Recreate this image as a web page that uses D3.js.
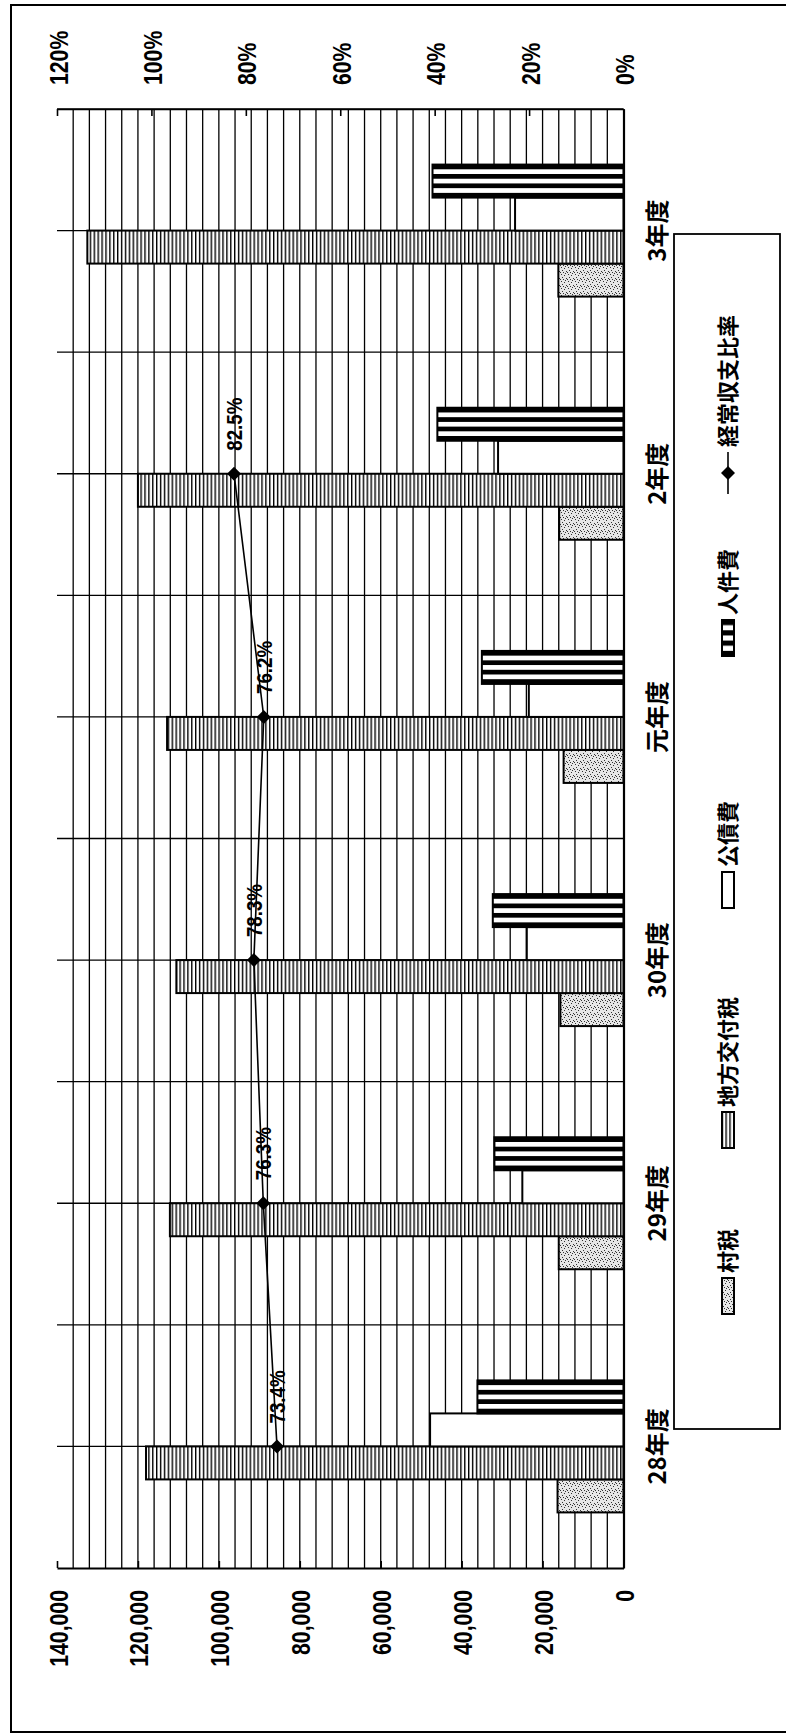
<!DOCTYPE html>
<html><head><meta charset="utf-8">
<script src="https://cdn.jsdelivr.net/npm/d3@7"></script>
<style>
html,body{margin:0;padding:0;background:#fff;}
svg{display:block;}
</style></head><body>
<svg id="chart" width="786" height="1733"></svg>
<script>
// ---- data ----
const categories = ["28年度","29年度","30年度","元年度","2年度","3年度"];
const seriesNames = ["村税","地方交付税","公債費","人件費"];
const sonzei = [16300,16000,15600,14800,15900,16100];
const chihoKofuzei = [118000,112100,110500,112800,120000,132500];
const kosaihi = [47800,25000,23900,23400,31000,26800];
const jinkenhi = [36100,31900,32300,35000,46000,47200];
const keijoRatio = [73.4,76.3,78.3,76.2,82.5,null];
const lineName = "経常収支比率";
const valueTicks = [0,20000,40000,60000,80000,100000,120000,140000];
const percentTicks = [0,20,40,60,80,100,120];

// ---- layout ----
const plot = {left:57, right:623.5, top:109, bottom:1568};
const svg = d3.select("#chart");
const numFont = "'Liberation Sans', Arial, sans-serif";
const jpFont = "'Noto Sans CJK JP', sans-serif";

const x = d3.scaleLinear().domain([0,140000]).range([plot.right, plot.left]);
const xp = d3.scaleLinear().domain([0,120]).range([plot.right, plot.left]);
const y = d3.scaleBand().domain(categories).range([plot.bottom, plot.top]);
const inner = d3.scaleBand().domain(seriesNames).range([66,-66]);
const cy = c => y(c) + y.bandwidth()/2;

// ---- patterns ----
const defs = svg.append("defs");
const pStip = defs.append("pattern").attr("id","p-stip").attr("patternUnits","userSpaceOnUse")
  .attr("width",7).attr("height",7);
pStip.append("rect").attr("width",7).attr("height",7).attr("fill","#e6e6e6");
[[1,1],[4,2],[2,4],[6,5],[5,0],[0,6],[3,6]].forEach(p=>
  pStip.append("rect").attr("x",p[0]).attr("y",p[1]).attr("width",1).attr("height",1).attr("fill","#333"));
const pV = defs.append("pattern").attr("id","p-v").attr("patternUnits","userSpaceOnUse")
  .attr("width",3.9).attr("height",10);
pV.append("rect").attr("width",3.9).attr("height",10).attr("fill","#fff");
pV.append("rect").attr("width",1.4).attr("height",10).attr("fill","#000");
const pH = defs.append("pattern").attr("id","p-h").attr("patternUnits","objectBoundingBox")
  .attr("patternContentUnits","objectBoundingBox").attr("width",1).attr("height",2/7);
pH.append("rect").attr("width",1).attr("height",2/7).attr("fill","#fff");
pH.append("rect").attr("width",1).attr("height",1/7).attr("fill","#000");
const fills = {"村税":"url(#p-stip)","地方交付税":"url(#p-v)","公債費":"#fff","人件費":"url(#p-h)"};
const seriesData = {"村税":sonzei,"地方交付税":chihoKofuzei,"公債費":kosaihi,"人件費":jinkenhi};

// ---- outer border ----
svg.append("rect").attr("x",11).attr("y",5).attr("width",790).attr("height",1727)
  .attr("fill","none").attr("stroke","#000").attr("stroke-width",2);

// ---- gridlines ----
const grid = svg.append("g").attr("stroke","#000").attr("stroke-width",1.3);
grid.selectAll("line.v").data(d3.range(4000,140000,4000)).join("line")
  .attr("x1",d=>x(d)).attr("x2",d=>x(d)).attr("y1",plot.top).attr("y2",plot.bottom);
const hLines = [];
categories.forEach((c,i)=>{ hLines.push(cy(c)); if(i>0) hLines.push(y(c)+y.bandwidth()); });
grid.selectAll("line.h").data(hLines).join("line")
  .attr("x1",plot.left).attr("x2",plot.right).attr("y1",d=>d).attr("y2",d=>d);
svg.append("line").attr("x1",plot.left).attr("x2",plot.right).attr("y1",plot.top).attr("y2",plot.top)
  .attr("stroke","#000").attr("stroke-width",1.6);

// ---- bars ----
const barData = [];
categories.forEach((c,i)=>seriesNames.forEach(s=>barData.push({c,s,v:seriesData[s][i]})));
svg.append("g").selectAll("rect").data(barData).join("rect")
  .attr("x",d=>x(d.v)).attr("width",d=>x(0)-x(d.v))
  .attr("y",d=>cy(d.c)+inner(d.s)).attr("height",inner.bandwidth())
  .attr("fill",d=>fills[d.s]).attr("stroke","#000").attr("stroke-width",2);

// ---- axes ----
const axB = svg.append("g").attr("transform",`translate(0,${plot.bottom})`)
  .call(d3.axisBottom(x).tickValues(valueTicks).tickSizeInner(-7).tickSizeOuter(0).tickFormat(d3.format(",")));
axB.select(".domain").attr("stroke-width",2.2);
axB.selectAll(".tick line").attr("stroke-width",1.6);
axB.selectAll(".tick text").attr("x",null).attr("y",null).attr("dy",null)
  .attr("transform","translate(10,22) rotate(-90) scale(0.85,1)").attr("text-anchor","end")
  .style("font-family",numFont).style("font-size","25px").style("font-weight","bold").attr("fill","#000");

const axT = svg.append("g").attr("transform",`translate(0,${plot.top})`)
  .call(d3.axisTop(xp).tickValues(percentTicks).tickSizeInner(-7).tickSizeOuter(0).tickFormat(d=>d+"%"));
axT.select(".domain").attr("stroke-width",1.6);
axT.selectAll(".tick line").attr("stroke-width",1.6);
axT.selectAll(".tick text").attr("x",null).attr("y",null).attr("dy",null)
  .attr("transform","translate(10,-24) rotate(-90) scale(0.85,1)").attr("text-anchor","start")
  .style("font-family",numFont).style("font-size","25px").style("font-weight","bold").attr("fill","#000");

const axR = svg.append("g").attr("transform",`translate(${plot.right},0)`)
  .call(d3.axisRight(y).tickSize(0).tickSizeOuter(0));
axR.select(".domain").attr("stroke-width",2.2);
axR.selectAll(".tick text").attr("x",null).attr("y",null).attr("dy",null)
  .attr("transform","translate(42,0) rotate(-90)").attr("text-anchor","middle")
  .style("font-family",jpFont).style("font-size","24px").style("font-weight","bold").attr("fill","#000");

// ---- line series ----
const pts = categories.map((c,i)=>({c,v:keijoRatio[i]}));
const line = d3.line().defined(d=>d.v!=null).x(d=>xp(d.v)).y(d=>cy(d.c));
svg.append("path").datum(pts).attr("d",line).attr("fill","none").attr("stroke","#000").attr("stroke-width",1.6);
const dpts = pts.filter(d=>d.v!=null);
const diamond = "M0,-7L7,0L0,7L-7,0Z";
svg.append("g").selectAll("path").data(dpts).join("path")
  .attr("d",diamond).attr("transform",d=>`translate(${xp(d.v)},${cy(d.c)})`).attr("fill","#000");
svg.append("g").selectAll("text").data(dpts).join("text")
  .attr("transform",d=>`translate(${xp(d.v)+8},${cy(d.c)-23}) rotate(-90) scale(0.85,1)`)
  .attr("text-anchor","start").style("font-family",numFont).style("font-size","22px").style("font-weight","bold")
  .attr("fill","#000").text(d=>d.v.toFixed(1)+"%");

// ---- legend ----
const legendBox = {x:674, y:234, w:106, h:1195, cx:728};
svg.append("rect").attr("x",legendBox.x).attr("y",legendBox.y).attr("width",legendBox.w).attr("height",legendBox.h)
  .attr("fill","#fff").attr("stroke","#000").attr("stroke-width",1.8);
const legendItems = seriesNames.map(s=>({name:s,type:"bar"})).concat([{name:lineName,type:"line"}]);
const legendSymbolBottom = [1314, 1148, 908, 656, 494];
const lg = svg.append("g").selectAll("g").data(legendItems).join("g");
lg.each(function(d,i){
  const g = d3.select(this);
  const bottom = legendSymbolBottom[i];
  const len = d.type==="bar" ? 36 : 42;
  const top = bottom - len;
  if(d.type==="bar"){
    g.append("rect").attr("x",legendBox.cx-6).attr("y",top).attr("width",12).attr("height",len)
      .attr("fill",fills[d.name]).attr("stroke","#000").attr("stroke-width",2);
  } else {
    g.append("line").attr("x1",legendBox.cx).attr("x2",legendBox.cx).attr("y1",top).attr("y2",bottom)
      .attr("stroke","#000").attr("stroke-width",1.6);
    g.append("path").attr("d",diamond).attr("transform",`translate(${legendBox.cx},${(top+bottom)/2})`).attr("fill","#000");
  }
  g.append("text").attr("transform",`translate(${legendBox.cx+8},${top-5}) rotate(-90)`)
    .attr("text-anchor","start").style("font-family",jpFont).style("font-size","22px").style("font-weight","bold")
    .attr("fill","#000").text(d.name);
});
</script>
</body></html>
